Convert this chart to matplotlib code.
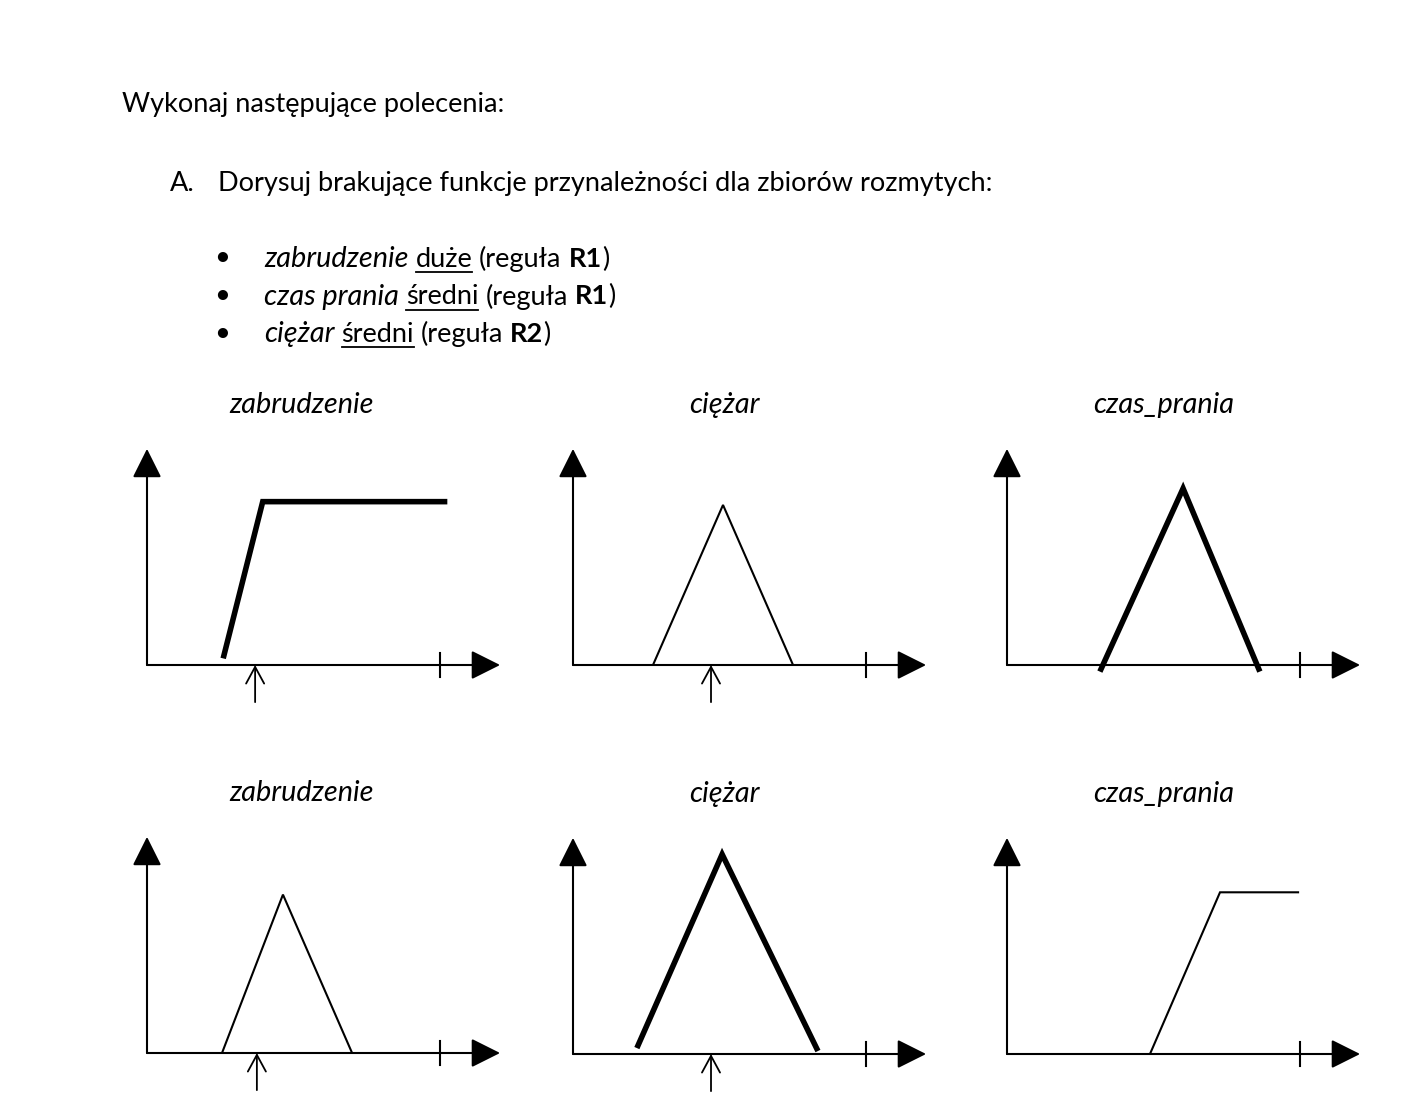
import matplotlib
matplotlib.use("Agg")
import matplotlib.pyplot as plt

# --- text content ---
header = "Wykonaj następujące polecenia:"
task_label = "A."
task_text = "Dorysuj brakujące funkcje przynależności dla zbiorów rozmytych:"
# kinds: i = italic, u = underlined, n = normal, b = bold, s = space
bullet_rows = [
    [("zabrudzenie", "i"), (" ", "s"), ("duże", "u"), (" ", "s"),
     ("(reguła", "n"), (" ", "s"), ("R1", "b"), (")", "n")],
    [("czas prania", "i"), (" ", "s"), ("średni", "u"), (" ", "s"),
     ("(reguła", "n"), (" ", "s"), ("R1", "b"), (")", "n")],
    [("ciężar", "i"), (" ", "s"), ("średni", "u"), (" ", "s"),
     ("(reguła", "n"), (" ", "s"), ("R2", "b"), (")", "n")],
]

# --- membership functions (x: 0..10 = tick, y: 1 ~ full membership) ---
panel_titles = ["zabrudzenie", "ciężar", "czas_prania",
                "zabrudzenie", "ciężar", "czas_prania"]
mf_x = [[2.60, 3.95, 10.25],
        [2.73, 5.12, 7.51],
        [3.17, 6.01, 8.63],
        [2.56, 4.64, 7.00],
        [2.18, 5.09, 8.36],
        [4.88, 7.27, 9.97]]
mf_y = [[0.04, 0.99, 0.99],
        [0.00, 0.97, 0.00],
        [-0.04, 1.07, -0.04],
        [0.00, 0.96, 0.00],
        [0.036, 1.21, 0.018],
        [0.00, 0.98, 0.98]]
mf_bold = [True, False, True, False, True, False]
input_x = [3.69, 4.71, None, 3.75, 4.71, None]
x_tick = 10
x_end = 12.05
y_end = 1.31

W, H = 1414, 1106
SX, SY = 29.3, 165.0          # pixels per unit
origins = [(147, 665), (573, 665), (1007, 665),
           (147, 1053), (573, 1054), (1007, 1054)]
title_cx = [302, 724, 1164]

FONT = "Lato"
FS = 19.5       # regular / bold
FS_IT = 20.8    # italic

fig = plt.figure(figsize=(W / 100, H / 100), dpi=100)
fig.patch.set_facecolor("white")
bg = fig.add_axes([0, 0, 1, 1])
bg.set_xlim(0, W)
bg.set_ylim(H, 0)
bg.axis("off")
renderer = fig.canvas.get_renderer()

styles = {"n": {}, "u": {}, "i": {"style": "italic"},
          "b": {"weight": "bold"}, "s": {}}


def width_of(s, **kw):
    t = bg.text(0, -100, s, fontsize=FS, family=FONT, **kw)
    w = t.get_window_extent(renderer).width
    t.remove()
    return w


space_w = width_of("a a") - width_of("aa")


def run(x, y, pieces):
    for s, kind in pieces:
        if kind == "s":
            x += space_w
            continue
        size = FS_IT if kind == "i" else FS
        t = bg.text(x, y, s, fontsize=size, family=FONT, va="baseline",
                    ha="left", color="black", **styles[kind])
        bb = t.get_window_extent(renderer)
        if kind == "u":
            bg.plot([bb.x0, bb.x1], [y + 5, y + 5], color="black", lw=1.3)
        x = bb.x1
    return x


bg.text(122, 112, header, fontsize=FS, family=FONT, va="baseline")
bg.text(170, 191, task_label, fontsize=FS, family=FONT, va="baseline")
bg.text(218, 191, task_text, fontsize=FS, family=FONT, va="baseline")

for k, row in enumerate(bullet_rows):
    yb = 267 + k * 37.5
    bg.text(222, yb - 9, "•", fontsize=FS, family=FONT, va="center",
            ha="center")
    run(264, yb, row)

# --- panels ---
xmin, xmax, ymin, ymax = -1.0, 13.0, -0.4, 1.4
for i, (ox, oy) in enumerate(origins):
    left = (ox + xmin * SX) / W
    bottom = (H - (oy - ymin * SY)) / H
    ax = fig.add_axes([left, bottom, (xmax - xmin) * SX / W,
                       (ymax - ymin) * SY / H])
    ax.set_xlim(xmin, xmax)
    ax.set_ylim(ymin, ymax)
    ax.axis("off")

    # axes with filled arrowheads
    for tip in [(x_end, 0), (0, y_end)]:
        ax.annotate("", xy=tip, xytext=(0, 0),
                    arrowprops=dict(arrowstyle="-|>,head_length=18,head_width=9",
                                    mutation_scale=1, lw=1.5, color="black",
                                    shrinkA=0, shrinkB=0))
    ax.plot([x_tick, x_tick], [-0.075, 0.075], color="black", lw=1.5)

    lw = 4.0 if mf_bold[i] else 1.5
    ax.plot(mf_x[i], mf_y[i], color="black", lw=lw,
            solid_capstyle="butt", solid_joinstyle="miter")

    if input_x[i] is not None:
        ax.annotate("", xy=(input_x[i], 0), xytext=(input_x[i], -0.225),
                    arrowprops=dict(arrowstyle="->,head_length=12,head_width=6.5",
                                    mutation_scale=1, lw=1.3, color="black",
                                    shrinkA=0, shrinkB=0))

    bg.text(title_cx[i % 3], oy - 252, panel_titles[i], fontsize=FS_IT,
            family=FONT, style="italic", ha="center", va="baseline")

fig.savefig("out.png", dpi=100, facecolor="white")
